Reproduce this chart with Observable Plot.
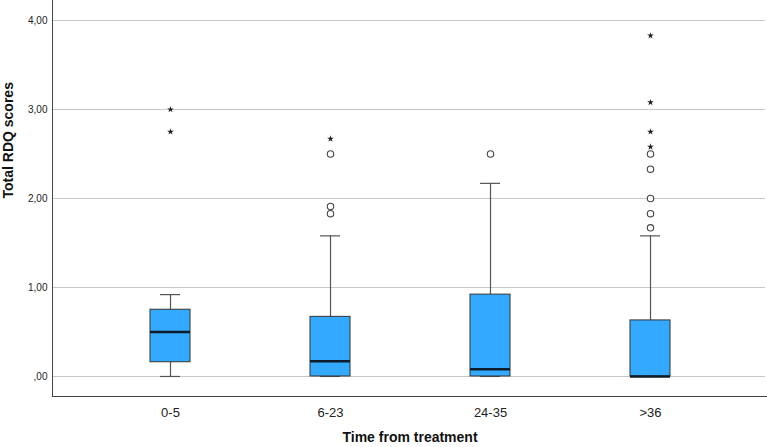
<!DOCTYPE html>
<html>
<head>
<meta charset="utf-8">
<script src="https://cdn.jsdelivr.net/npm/d3@7"></script>
<script src="https://cdn.jsdelivr.net/npm/@observablehq/plot@0.6"></script>
<style>
  body { margin: 0; background: #fff; }
  #chart svg { display: block; }
</style>
</head>
<body>
<div id="chart"></div>
<script>
// Categories and box statistics
const categories = ["0-5", "6-23", "24-35", ">36"];
const whiskerLow = [0, 0, 0, 0];
const q1 = [0.16, 0, 0, 0];
const median = [0.50, 0.17, 0.08, 0.0];
const q3 = [0.75, 0.67, 0.92, 0.63];
const whiskerHigh = [0.92, 1.58, 2.17, 1.58];

// Outliers (circles) and extreme values (stars)
const circleGroup = ["6-23", "6-23", "6-23", "24-35", ">36", ">36", ">36", ">36", ">36"];
const circleValue = [2.50, 1.91, 1.83, 2.50, 2.50, 2.33, 2.00, 1.83, 1.67];
const starGroup = ["0-5", "0-5", "6-23", ">36", ">36", ">36", ">36"];
const starValue = [3.00, 2.75, 2.67, 3.83, 3.08, 2.75, 2.58];

const yTicks = [0, 1, 2, 3, 4];
const xTitle = "Time from treatment";
const yTitle = "Total RDQ scores";

const boxes = categories.map((c, i) => ({
  cat: c, lo: whiskerLow[i], q1: q1[i], med: median[i], q3: q3[i], hi: whiskerHigh[i]
}));
const circles = circleGroup.map((g, i) => ({cat: g, v: circleValue[i]}));
const stars = starGroup.map((g, i) => ({cat: g, v: starValue[i]}));

const fmt = d => d === 0 ? ",00" : d.toFixed(2).replace(".", ",");

const chart = Plot.plot({
  width: 767,
  height: 447,
  marginLeft: 52,
  marginRight: 0,
  marginTop: 0,
  marginBottom: 51,
  style: {fontFamily: "Arial, 'Liberation Sans', sans-serif", background: "#fff"},
  x: {type: "band", domain: categories, paddingInner: 0.751, paddingOuter: 0.6, label: null},
  y: {domain: [-0.225, 4.225], label: null},
  marks: [
    Plot.ruleY(yTicks, {stroke: "#c8c8c8", strokeWidth: 1.2, insetRight: 2}),
    Plot.axisY(yTicks, {tickSize: 0, tickPadding: 5, tickFormat: fmt, fontSize: 10, fill: "#222", label: null}),
    Plot.axisX({tickSize: 0, tickPadding: 11, fontSize: 13, fill: "#222", label: null}),
    Plot.ruleX(boxes, {x: "cat", y1: "q3", y2: "hi", stroke: "#555", strokeWidth: 1.2}),
    Plot.ruleX(boxes, {x: "cat", y1: "lo", y2: "q1", stroke: "#555", strokeWidth: 1.2}),
    Plot.tickY(boxes, {x: "cat", y: "hi", stroke: "#555", strokeWidth: 1.2, insetLeft: 10, insetRight: 10}),
    Plot.tickY(boxes, {x: "cat", y: "lo", stroke: "#555", strokeWidth: 1.2, insetLeft: 10, insetRight: 10}),
    Plot.barY(boxes, {x: "cat", y1: "q1", y2: "q3", fill: "#33aaff", stroke: "#333", strokeWidth: 1}),
    Plot.tickY(boxes, {x: "cat", y: "med", stroke: "#0d1b2a", strokeWidth: 2.5}),
    Plot.dot(circles, {x: "cat", y: "v", r: 3.2, stroke: "#444", strokeWidth: 1.1, fill: "white"}),
    Plot.dot(stars, {x: "cat", y: "v", symbol: "star", r: 2.1, fill: "#222", stroke: "none"}),
    Plot.frame({anchor: "left", stroke: "#444"}),
    Plot.frame({anchor: "bottom", stroke: "#444", strokeWidth: 1.2}),
    Plot.text([xTitle], {frameAnchor: "bottom", dy: 45, fontSize: 14, fontWeight: "bold", fill: "#111"}),
    Plot.text([yTitle], {frameAnchor: "left", dx: -44, rotate: -90, fontSize: 14, fontWeight: "bold", fill: "#111"})
  ]
});
document.getElementById("chart").appendChild(chart);
</script>
</body>
</html>
